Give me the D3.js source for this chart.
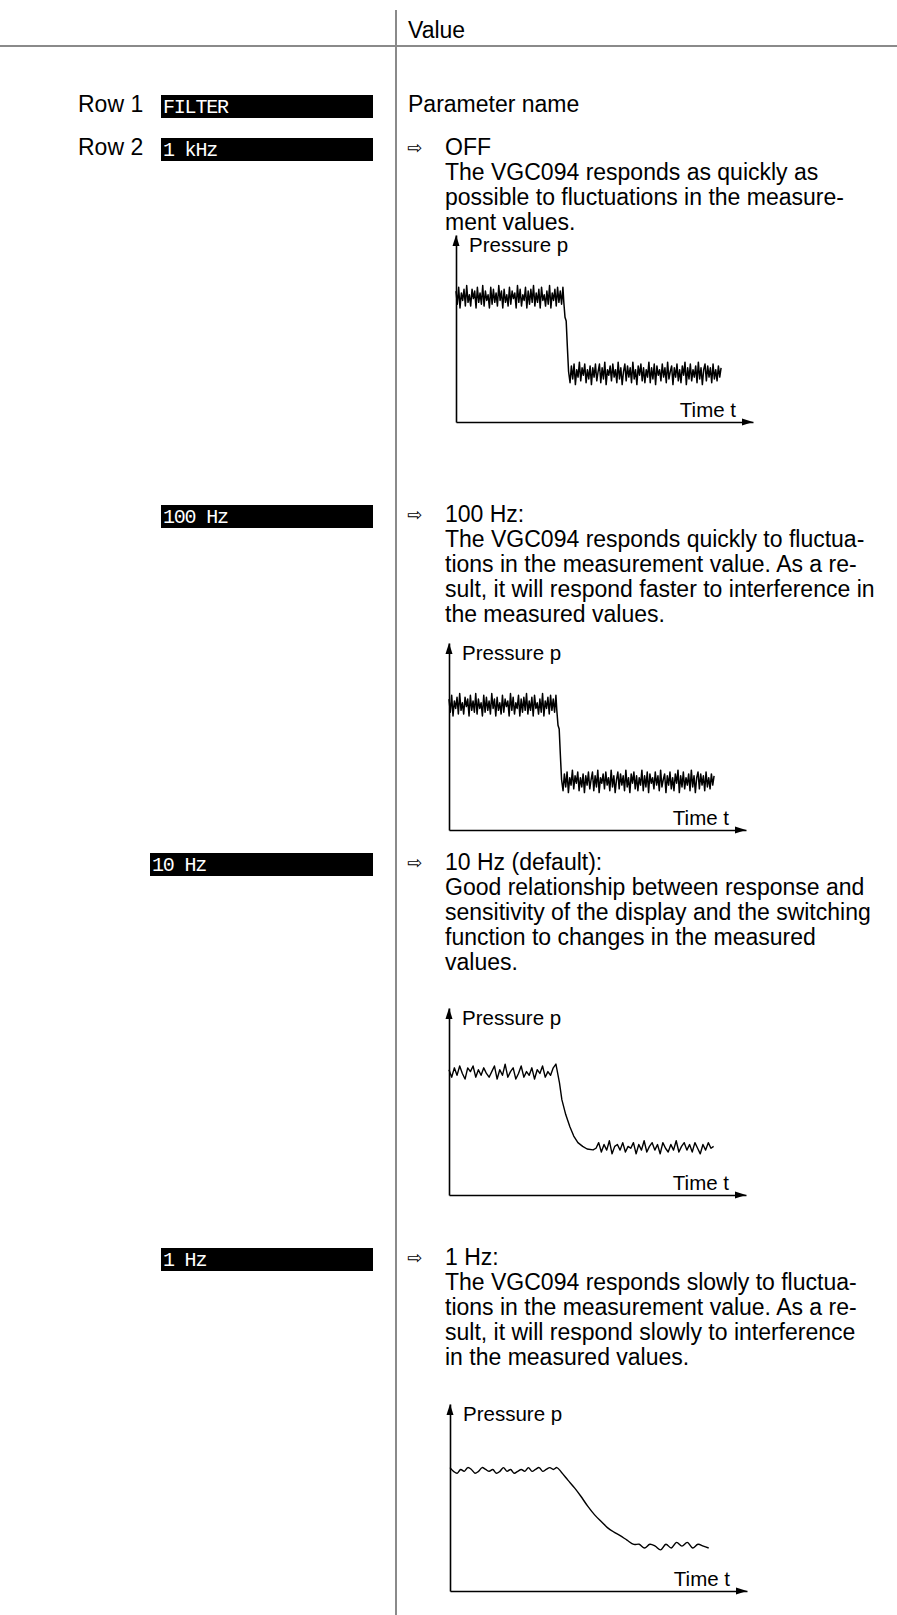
<!DOCTYPE html>
<html><head><meta charset="utf-8">
<script src="https://cdn.jsdelivr.net/npm/d3@7"></script>
<style>
html,body{margin:0;padding:0;background:#fff;}
svg{display:block;}
</style></head><body>
<script>
// ---------- texts ----------
const headerLabel = "Value";
const paramLabel = "Parameter name";
const rowLabels = ["Row 1", "Row 2"];
const lcdLabels = ["FILTER", "1 kHz", "100 Hz", "10 Hz", "1 Hz"];
const optionTitles = ["OFF", "100 Hz:", "10 Hz (default):", "1 Hz:"];
const optionLines = [
  ["The VGC094 responds as quickly as", "possible to fluctuations in the measure-", "ment values."],
  ["The VGC094 responds quickly to fluctua-", "tions in the measurement value. As a re-", "sult, it will respond faster to interference in", "the measured values."],
  ["Good relationship between response and", "sensitivity of the display and the switching", "function to changes in the measured", "values."],
  ["The VGC094 responds slowly to fluctua-", "tions in the measurement value. As a re-", "sult, it will respond slowly to interference", "in the measured values."]
];
const yAxisLabel = "Pressure p";
const xAxisLabel = "Time t";
const timeDomain = [0, 100];
const pressureDomain = [0, 100];

// ---------- signals (pressure) ----------
// OFF / 100 Hz : very noisy, abrupt step
const fastHighT0 = 0, fastHighDt = 0.45;
const fastHighP = [70,63,72,61,69,65,71,62,73,64, 68,62,71,66,70,61,72,64,69,63,
  73,62,70,65,68,61,72,63,71,64, 69,62,73,65,70,61,71,64,68,62,
  72,63,70,66,69,61,73,64,71,62, 68,65,72,61,70,63,71,64,73,62,
  69,64,71,61,72,65,68,62,70,63, 73,61,69,65,71,62,72,64,70,63, 72];
const fastDropT = [36.3, 36.7, 37.1, 37.5, 37.9];
const fastDropP = [64, 56, 54, 40, 27];
const fastLowT0 = 38.4, fastLowDt = 0.45;
const fastLowP = [21,30,23,31,20,28,24,32,22,29, 25,31,21,28,23,30,20,29,24,31,
  22,27,31,21,29,23,32,20,28,25, 30,22,31,24,28,21,32,23,29,20,
  27,31,22,30,24,29,21,32,23,28, 20,30,25,31,22,29,21,28,24,32,
  21,29,23,31,20,30,25,28,22,31, 24,29,21,32,23,27,30,20,29,24,
  31,22,28,21,30,25,32,20,29,23, 31,22,28,24,30,21,32,23,29,20,
  28,31,22,30,24,29,21,31,23,28, 22,30,24,29];

// 10 Hz : moderate noise, quick decay
const medHighT0 = 0, medHighDt = 0.9;
const medHighP = [67,63,68,64,69,65,62,68,66,69, 63,67,64,68,65,63,66,69,62,67,
  64,70,63,66,68,62,65,69,63,66, 64,68,62,67,65,69,63,66,64,68, 70];
const medDecayT = [37.2, 38.0, 39.3, 40.7, 42.0, 43.4, 45.0, 46.5, 48.5];
const medDecayP = [60, 51, 43, 36.5, 31.5, 28, 26, 24.6, 24.1];
const medLowT0 = 49.5, medLowDt = 0.9;
const medLowP = [25,28,23,27,24,29,22,26,27,24, 28,23,26,25,28,22,27,24,29,23,
  26,28,24,27,22,28,25,23,27,24, 29,23,26,28,24,27,23,28,25,22, 27,24,28,25,26];

// 1 Hz : gentle ripple, slow decay
const slowHighT0 = 0, slowHighDt = 1.2;
const slowHighP = [66,64,63,65,64,66,65,63,64,66, 65,64,65,63,64,66,64,65,63,64,
  65,64,66,64,65,66,64,65,66,65, 66];
const slowDecayT = [37.5, 39.7, 42, 44, 46.3, 48.7, 51, 53, 55.2, 57.3, 59.6, 61.9];
const slowDecayP = [63.5, 59.3, 55, 50.8, 45.5, 40.7, 37, 33.9, 31.5, 29.6, 27.2, 24.9];
const slowLowT0 = 63.7, slowLowDt = 1.8;
const slowLowP = [25,23,25,24,22,25,23,26,24,26,23,25,24,23];

// ---------- helpers ----------
const seg = (t0, dt, ps) => ps.map((p, i) => ({t: t0 + i * dt, p}));
const pairs = (ts, ps) => ts.map((t, i) => ({t, p: ps[i]}));

const fastSeries = [...seg(fastHighT0, fastHighDt, fastHighP), ...pairs(fastDropT, fastDropP), ...seg(fastLowT0, fastLowDt, fastLowP)];
const medSeries = [...seg(medHighT0, medHighDt, medHighP), ...pairs(medDecayT, medDecayP), ...seg(medLowT0, medLowDt, medLowP)];
const slowSeries = [...seg(slowHighT0, slowHighDt, slowHighP), ...pairs(slowDecayT, slowDecayP), ...seg(slowLowT0, slowLowDt, slowLowP)];

// ---------- layout ----------
const W = 897, H = 1615;
const FONT = "'Liberation Sans', Arial, Helvetica, sans-serif";
const bodySize = 23, lineGap = 25;
const divX = 396, textX = 445, arrowX = 407;
const rowBaselines = [112, 155];
const lcdBaselines = [112, 155, 522, 870, 1265];
const lcdLeft = [161, 161, 161, 150, 161];
const lcdRight = 373;
const optionBaselines = [155, 522, 870, 1265];
const chartOrigins = [[456, 235], [449, 643], [449, 1008], [450, 1404]];
const chartCurves = [d3.curveLinear, d3.curveLinear, d3.curveLinear, d3.curveCatmullRom];
const chartData = [fastSeries, fastSeries, medSeries, slowSeries];
const iw = 297, ih = 187;

const svg = d3.select("body").append("svg").attr("width", W).attr("height", H);

// grid lines
svg.append("line").attr("x1", divX).attr("x2", divX).attr("y1", 10).attr("y2", H)
  .attr("stroke", "#8a8a8a").attr("stroke-width", 2);
svg.append("line").attr("x1", 0).attr("x2", W).attr("y1", 46).attr("y2", 46)
  .attr("stroke", "#8a8a8a").attr("stroke-width", 2);

const txt = (x, y, s, size, anchor) => svg.append("text").attr("x", x).attr("y", y)
  .attr("font-family", FONT).attr("font-size", size).attr("fill", "#000")
  .attr("text-anchor", anchor || "start").text(s);

txt(408, 38, headerLabel, bodySize);
txt(408, rowBaselines[0], paramLabel, bodySize);
rowLabels.forEach((r, i) => txt(78, rowBaselines[i], r, bodySize));

// LCD boxes
lcdLabels.forEach((s, i) => {
  const b = lcdBaselines[i];
  svg.append("rect").attr("x", lcdLeft[i]).attr("y", b - 17).attr("width", lcdRight - lcdLeft[i]).attr("height", 23).attr("fill", "#000");
  svg.append("text").attr("x", lcdLeft[i] + 2).attr("y", b + 1)
    .attr("font-family", "'Liberation Mono', 'DejaVu Sans Mono', monospace")
    .attr("font-size", 20).attr("fill", "#fff").attr("letter-spacing", -1.2)
    .style("white-space", "pre").text(s);
});

// option text
optionTitles.forEach((title, i) => {
  const b = optionBaselines[i];
  svg.append("text").attr("x", arrowX).attr("y", b - 1).attr("font-family", "'DejaVu Sans', sans-serif")
    .attr("font-size", 18).attr("fill", "#000").text("\u21E8");
  txt(textX, b, title, bodySize);
  optionLines[i].forEach((l, j) => txt(textX, b + (j + 1) * lineGap, l, bodySize));
});

// charts
const x = d3.scaleLinear().domain(timeDomain).range([0, iw]);
const y = d3.scaleLinear().domain(pressureDomain).range([ih, 0]);
chartOrigins.forEach(([ox, oy], i) => {
  const g = svg.append("g").attr("transform", `translate(${ox},${oy})`);
  const ax = g.append("g").attr("transform", `translate(0,${ih})`)
    .call(d3.axisBottom(x).tickValues([]).tickSizeOuter(0));
  const ay = g.append("g").call(d3.axisLeft(y).tickValues([]).tickSizeOuter(0));
  [ax, ay].forEach(a => a.select(".domain").attr("stroke", "#000").attr("stroke-width", 1.6));
  const tx = x(timeDomain[1]), ty = y(pressureDomain[1]);
  g.append("path").attr("d", `M${tx},${ih}L${tx - 11},${ih - 3.5}L${tx - 11},${ih + 3.5}Z`).attr("fill", "#000");
  g.append("path").attr("d", `M0,${ty}L${-3.5},${ty + 11}L${3.5},${ty + 11}Z`).attr("fill", "#000");
  g.append("text").attr("x", 13).attr("y", 17).attr("font-family", FONT).attr("font-size", 20.5).text(yAxisLabel);
  g.append("text").attr("x", iw - 17).attr("y", ih - 5).attr("text-anchor", "end").attr("font-family", FONT).attr("font-size", 20.5).text(xAxisLabel);
  const line = d3.line().x(d => x(d.t)).y(d => y(d.p)).curve(chartCurves[i]);
  g.append("path").datum(chartData[i]).attr("d", line).attr("fill", "none")
    .attr("stroke", "#000").attr("stroke-width", i < 2 ? 1.5 : 1.4).attr("stroke-linejoin", "round");
});
</script>
</body></html>
